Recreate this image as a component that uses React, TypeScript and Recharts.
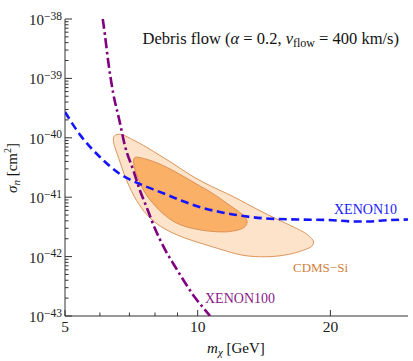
import React from 'react';
import { ComposedChart, XAxis, YAxis, Scatter, Curve } from 'recharts';

const serif = '"Liberation Serif", "Times New Roman", serif';
const frameColor = '#333';

// axis ticks
const massTicks = [5, 6, 7, 8, 9, 10, 20];
const massLabels = [5, 10, 20];
const topMassTicks = [5, 10, 20];
const sigmaDecades = [-43, -42, -41, -40, -39, -38];
const sigmaTicks: number[] = [];
sigmaDecades.forEach((d) => {
  sigmaTicks.push(Math.pow(10, d));
  if (d < -38) for (let m = 2; m <= 9; m++) sigmaTicks.push(m * Math.pow(10, d));
});

// XENON10 exclusion (blue dashed)
const xenon10Mass = [5, 5.41, 6.0, 6.66, 7.39, 8.2, 9.11, 10.1, 11.22, 12.45, 14.31, 17.02, 19.9, 22.67, 24.51, 26.23, 30];
const xenon10Sigma = [2.72e-40, 1.12e-40, 4.75e-41, 2.46e-41, 1.67e-41, 1.23e-41, 8.98e-42, 6.84e-42, 5.64e-42, 4.92e-42, 4.38e-42, 4.21e-42, 4.13e-42, 3.9e-42, 3.9e-42, 4.06e-42, 4.21e-42];

// XENON100 exclusion (purple dot-dashed)
const xenon100Mass = [6.09, 6.16, 6.26, 6.43, 6.64, 6.84, 7.14, 7.39, 7.67, 7.99, 8.42, 8.87, 9.34, 9.84, 10.26, 10.67];
const xenon100Sigma = [1e-38, 5.38e-39, 2.04e-39, 5.68e-40, 2.0e-40, 7.28e-41, 2.87e-41, 1.32e-41, 6.58e-42, 3.03e-42, 1.34e-42, 6.95e-43, 3.73e-43, 2.09e-43, 1.42e-43, 1e-43];

// CDMS-Si outer contour (closed)
const cdmsOuterMass = [6.43, 6.45, 6.55, 6.66, 6.78, 6.94, 7.14, 7.52, 8.06, 8.79, 9.59, 10.65, 12.02, 13.82, 16.15, 17.47, 18.12, 18.4, 18.21, 17.93, 16.15, 14.31, 12.66, 11.61, 10.65, 9.76, 8.95, 8.2, 7.65, 7.27, 6.9, 6.66, 6.52, 6.45];
const cdmsOuterSigma = [9.55e-41, 1.07e-40, 1.15e-40, 1.15e-40, 1.12e-40, 1.03e-40, 9.19e-41, 7.57e-41, 5.48e-41, 3.72e-41, 2.37e-41, 1.55e-41, 1.05e-41, 5.86e-42, 3.4e-42, 2.59e-42, 2.06e-42, 1.76e-42, 1.51e-42, 1.38e-42, 1.06e-42, 9.73e-43, 1.02e-42, 1.24e-42, 1.51e-42, 1.83e-42, 2.31e-42, 3.18e-42, 5.01e-42, 8.4e-42, 1.82e-41, 3.96e-41, 6.24e-41, 7.87e-41];

// CDMS-Si inner contour (closed)
const cdmsInnerMass = [7.14, 7.2, 7.39, 7.71, 8.06, 8.5, 9.26, 10.1, 10.81, 11.61, 12.45, 12.84, 13.0, 12.84, 12.45, 11.61, 10.65, 9.76, 8.95, 8.35, 7.92, 7.52, 7.28, 7.16];
const cdmsInnerSigma = [4.23e-41, 4.84e-41, 4.66e-41, 4.31e-41, 3.84e-41, 3.22e-41, 2.28e-41, 1.55e-41, 1.18e-41, 7.98e-42, 5.64e-42, 4.65e-42, 3.82e-42, 3.15e-42, 2.81e-42, 2.55e-42, 2.65e-42, 2.92e-42, 3.54e-42, 5.12e-42, 7.69e-42, 1.27e-41, 2.28e-41, 3.35e-41];

const toPoints = (xs: number[], ys: number[]) => xs.map((x, i) => ({ x, y: ys[i] }));

const xenon10 = toPoints(xenon10Mass, xenon10Sigma);
const xenon100 = toPoints(xenon100Mass, xenon100Sigma);
const cdmsOuter = toPoints(cdmsOuterMass, cdmsOuterSigma);
const cdmsInner = toPoints(cdmsInnerMass, cdmsInnerSigma);

const isDecade = (v: number) => Math.abs(Math.log10(v) - Math.round(Math.log10(v))) < 1e-6;

const BottomTick = (props: any) => {
  const { x, y, payload } = props;
  const major = massLabels.includes(payload.value);
  return (
    <g>
      <line x1={x} y1={y} x2={x} y2={y - (major ? 6 : 3.5)} stroke={frameColor} />
      {major && (
        <text x={x} y={y + 16} textAnchor="middle" fontSize={15.5} style={{ fontFamily: serif }} fill="#222">
          {payload.value}
        </text>
      )}
    </g>
  );
};

const TopTick = (props: any) => {
  const { x, y } = props;
  return <line x1={x} y1={y} x2={x} y2={y + 6} stroke={frameColor} />;
};

const LeftTick = (props: any) => {
  const { x, y, payload } = props;
  const major = isDecade(payload.value);
  const exp = Math.round(Math.log10(payload.value));
  return (
    <g>
      <line x1={x} y1={y} x2={x + (major ? 7 : 3.5)} y2={y} stroke={frameColor} />
      {major && (
        <text x={x - 3} y={y + 6} textAnchor="end" fontSize={15} style={{ fontFamily: serif }} fill="#222">
          <tspan>10</tspan>
          <tspan dy={-5.5} fontSize={11.5}>{'\u2212' + Math.abs(exp)}</tspan>
        </text>
      )}
    </g>
  );
};

const RightTick = (props: any) => {
  const { x, y, payload } = props;
  const major = isDecade(payload.value);
  return <line x1={x} y1={y} x2={x - (major ? 7 : 3.5)} y2={y} stroke={frameColor} />;
};

const hidden = () => <g />;

const contourLine = (fill: string) => (p: any) => (
  <Curve points={p.points} type="basisClosed" fill={fill} stroke="#d88a4c" strokeWidth={0.9} />
);

const limitLine = (stroke: string, dash: string) => (p: any) => (
  <Curve points={p.points} type="monotoneX" fill="none" stroke={stroke} strokeWidth={2.6} strokeDasharray={dash} />
);

export default function App() {
  return (
    <div style={{ position: 'absolute', left: 0, top: 0, width: 413, height: 361 }}>
      <ComposedChart width={413} height={361} margin={{ top: 19, right: 5, bottom: 0, left: 0 }}>
        <XAxis
          dataKey="x"
          type="number"
          scale="log"
          domain={[5, 30]}
          allowDataOverflow
          ticks={massTicks}
          interval={0}
          height={45}
          tickSize={0}
          tickMargin={0}
          tickLine={false}
          tick={BottomTick}
          axisLine={{ stroke: frameColor }}
        />
        <XAxis
          xAxisId="top"
          orientation="top"
          type="number"
          scale="log"
          domain={[5, 30]}
          allowDataOverflow
          ticks={topMassTicks}
          interval={0}
          height={0}
          tickSize={0}
          tickMargin={0}
          tickLine={false}
          tick={TopTick}
          axisLine={{ stroke: frameColor }}
        />
        <YAxis
          dataKey="y"
          type="number"
          scale="log"
          domain={[1e-43, 1e-38]}
          allowDataOverflow
          ticks={sigmaTicks}
          interval={0}
          width={65}
          tickSize={0}
          tickMargin={0}
          tickLine={false}
          tick={LeftTick}
          axisLine={{ stroke: frameColor }}
        />
        <YAxis
          yAxisId="right"
          orientation="right"
          type="number"
          scale="log"
          domain={[1e-43, 1e-38]}
          allowDataOverflow
          ticks={sigmaTicks}
          interval={0}
          width={0}
          tickSize={0}
          tickMargin={0}
          tickLine={false}
          tick={RightTick}
          axisLine={{ stroke: frameColor }}
        />
        <Scatter data={cdmsOuter} fill="#fde3c9" shape={hidden} line={contourLine('#fde3c9')} isAnimationActive={false} />
        <Scatter data={cdmsInner} fill="#fbb068" shape={hidden} line={contourLine('#fbb068')} isAnimationActive={false} />
        <Scatter data={xenon10} fill="#1414ff" shape={hidden} line={limitLine('#1414ff', '8 4.5')} isAnimationActive={false} />
        <Scatter data={xenon100} fill="#800080" shape={hidden} line={limitLine('#800080', '10 3.5 2.5 3.5')} isAnimationActive={false} />
      </ComposedChart>
      <svg
        width={413}
        height={361}
        style={{ position: 'absolute', left: 0, top: 0, pointerEvents: 'none', fontFamily: serif }}
      >
        <text x={399} y={44} textAnchor="end" fontSize={16.5} fill="#111">
          Debris flow (<tspan fontStyle="italic">α</tspan> = 0.2, <tspan fontStyle="italic">v</tspan>
          <tspan dy={3} fontSize={12}>flow</tspan>
          <tspan dy={-3}> = 400 km/s)</tspan>
        </text>
        <text x={334} y={214} fontSize={14} fill="#1a1aff">XENON10</text>
        <text x={293} y={272} fontSize={13} fill="#d07f3c">CDMS−Si</text>
        <text x={205} y={303} fontSize={14} fill="#8a1a8a">XENON100</text>
        <text x={236} y={353} textAnchor="middle" fontSize={15} fill="#111">
          <tspan fontStyle="italic">m</tspan>
          <tspan dy={3} fontSize={11} fontStyle="italic">χ</tspan>
          <tspan dy={-3}> [GeV]</tspan>
        </text>
        <text x={17} y={168} textAnchor="middle" fontSize={15} fill="#111" transform="rotate(-90 17 168)">
          <tspan fontStyle="italic">σ</tspan>
          <tspan dy={3} fontSize={11} fontStyle="italic">n</tspan>
          <tspan dy={-3}> [cm</tspan>
          <tspan dy={-6} fontSize={10}>2</tspan>
          <tspan dy={6}>]</tspan>
        </text>
      </svg>
    </div>
  );
}
